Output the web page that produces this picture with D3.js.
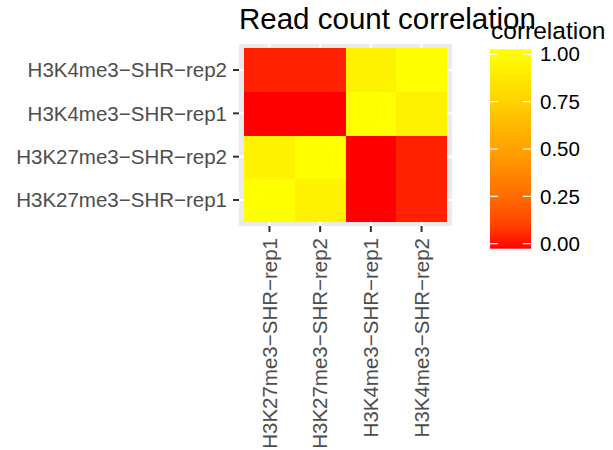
<!DOCTYPE html>
<html>
<head>
<meta charset="utf-8">
<script src="https://cdn.jsdelivr.net/npm/d3@7"></script>
<style>
  html, body { margin: 0; padding: 0; background: #ffffff; }
  svg { display: block; font-family: "Liberation Sans", Arial, Helvetica, sans-serif; }
</style>
</head>
<body>
<svg id="chart" width="613" height="450"></svg>
<script>
// ---- data ----
const samples = ["H3K27me3\u2212SHR\u2212rep1", "H3K27me3\u2212SHR\u2212rep2", "H3K4me3\u2212SHR\u2212rep1", "H3K4me3\u2212SHR\u2212rep2"];
const corK27rep1 = [1.00, 0.93, 0.00, 0.03];
const corK27rep2 = [0.93, 1.00, 0.00, 0.03];
const corK4rep1  = [0.00, 0.00, 1.00, 0.93];
const corK4rep2  = [0.03, 0.03, 0.93, 1.00];
const corRows = [corK27rep1, corK27rep2, corK4rep1, corK4rep2];
const legendBreaks = [0, 0.25, 0.5, 0.75, 1];
const chartTitle = "Read count correlation";
const legendTitle = "correlation";

// long-form table built from the arrays
const cells = [];
corRows.forEach((row, i) => row.forEach((v, j) => cells.push({ x: samples[j], y: samples[i], value: v })));

const svg = d3.select("#chart");
svg.append("rect").attr("width", 613).attr("height", 450).attr("fill", "#ffffff");

const panel = { left: 239, right: 452, top: 44, bottom: 226 };

const x = d3.scaleBand().domain(samples).range([panel.left, panel.right]).paddingInner(0).paddingOuter(0.1);
const y = d3.scaleBand().domain(samples).range([panel.bottom, panel.top]).paddingInner(0).paddingOuter(0.1);

const ext = d3.extent(cells, d => d.value);
const color = d3.scaleLinear().domain(ext).range(["#ff0000", "#ffff00"]).interpolate(d3.interpolateLab);

// panel background
svg.append("rect")
  .attr("x", panel.left).attr("y", panel.top)
  .attr("width", panel.right - panel.left).attr("height", panel.bottom - panel.top)
  .attr("fill", "#ebebeb");

// grid lines
const grid = svg.append("g");
samples.forEach(s => {
  grid.append("line")
    .attr("x1", x(s) + x.bandwidth() / 2).attr("x2", x(s) + x.bandwidth() / 2)
    .attr("y1", panel.top).attr("y2", panel.bottom)
    .attr("stroke", "#ffffff").attr("stroke-width", 2);
  grid.append("line")
    .attr("y1", y(s) + y.bandwidth() / 2).attr("y2", y(s) + y.bandwidth() / 2)
    .attr("x1", panel.left).attr("x2", panel.right)
    .attr("stroke", "#ffffff").attr("stroke-width", 2);
});

// tiles
svg.append("g").selectAll("rect").data(cells).join("rect")
  .attr("x", d => x(d.x)).attr("y", d => y(d.y))
  .attr("width", x.bandwidth() + 0.5).attr("height", y.bandwidth() + 0.5)
  .attr("fill", d => color(d.value))
  .attr("shape-rendering", "crispEdges");

// axes
const xAxis = svg.append("g").attr("transform", `translate(0,${panel.bottom})`)
  .call(d3.axisBottom(x).tickSize(6).tickPadding(5));
xAxis.select(".domain").remove();
xAxis.selectAll(".tick line").attr("stroke", "#333333").attr("stroke-width", 2);
xAxis.selectAll(".tick text")
  .attr("fill", "#4d4d4d").attr("font-size", "20.5px")
  .attr("transform", "rotate(-90)")
  .attr("text-anchor", "end")
  .attr("x", -12).attr("y", 0).attr("dy", "0.35em");

const yAxis = svg.append("g").attr("transform", `translate(${panel.left},0)`)
  .call(d3.axisLeft(y).tickSize(6).tickPadding(6));
yAxis.select(".domain").remove();
yAxis.selectAll(".tick line").attr("stroke", "#333333").attr("stroke-width", 2);
yAxis.selectAll(".tick text")
  .attr("fill", "#4d4d4d").attr("font-size", "20.5px").attr("dy", "0.35em");

// title
svg.append("text").attr("x", 239).attr("y", 28.5)
  .attr("font-size", "29.5px").attr("fill", "#000000").text(chartTitle);

// legend
const bar = { x: 490, w: 41, top: 49.3, bottom: 248.7 };
const ly = d3.scaleLinear().domain(ext).range([243.7, 54.3]);

const defs = svg.append("defs");
const grad = defs.append("linearGradient").attr("id", "lg")
  .attr("x1", 0).attr("y1", 1).attr("x2", 0).attr("y2", 0);
d3.range(0, 1.0001, 0.05).forEach(t => {
  const yy = bar.bottom - t * (bar.bottom - bar.top);
  const v = Math.max(ext[0], Math.min(ext[1], ly.invert(yy)));
  grad.append("stop").attr("offset", t).attr("stop-color", color(v));
});
svg.append("rect").attr("x", bar.x).attr("y", bar.top)
  .attr("width", bar.w).attr("height", bar.bottom - bar.top)
  .attr("fill", "url(#lg)");

const lt = svg.append("g");
legendBreaks.forEach(b => {
  lt.append("line").attr("x1", bar.x).attr("x2", bar.x + 8.2)
    .attr("y1", ly(b)).attr("y2", ly(b)).attr("stroke", "#ffffff").attr("stroke-width", 1.2);
  lt.append("line").attr("x1", bar.x + bar.w - 8.2).attr("x2", bar.x + bar.w)
    .attr("y1", ly(b)).attr("y2", ly(b)).attr("stroke", "#ffffff").attr("stroke-width", 1.2);
  lt.append("text").attr("x", 540).attr("y", ly(b)).attr("dy", "0.35em")
    .attr("font-size", "20.5px").attr("fill", "#000000").text(d3.format(".2f")(b));
});

svg.append("text").attr("x", 491).attr("y", 39)
  .attr("font-size", "24.5px").attr("fill", "#000000").text(legendTitle);
</script>
</body>
</html>
